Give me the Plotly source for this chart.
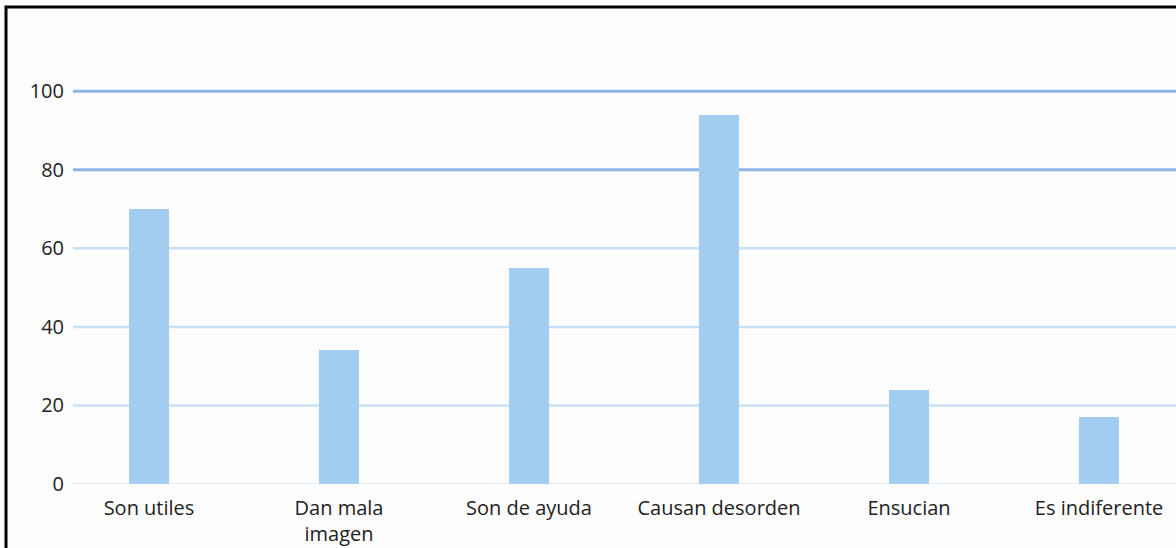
import plotly.graph_objects as go

# Survey responses (percent)
categories = ["Son utiles", "Dan mala<br>imagen", "Son de ayuda",
              "Causan desorden", "Ensucian", "Es indiferente"]
values = [70, 34, 55, 94, 24, 17]

y_ticks = [0, 20, 40, 60, 80, 100]

BAR_COLOR = "#a3cdf0"
TEXT_COLOR = "#222222"
FONT = "Open Sans"

W, H = 1176, 548
ML, MR, MT, MB = 73, 0, 52, 64
plot_w = W - ML - MR
plot_h = H - MT - MB

fig = go.Figure()
fig.add_trace(go.Bar(
    x=categories,
    y=values,
    width=0.21,
    marker=dict(color=BAR_COLOR, line=dict(width=0)),
    hoverinfo="x+y",
))

# Horizontal reference lines, one per tick; the upper two are stronger
shapes = []
for t in y_ticks:
    if t >= 80:
        color, width = "#8fb3e6", 3
    elif t == 0:
        color, width = "#dcedf9", 2
    else:
        color, width = "#c7e0f4", 2.5
    shapes.append(dict(
        type="line", xref="paper", yref="y",
        x0=0, x1=1, y0=t, y1=t,
        line=dict(color=color, width=width),
        layer="below",
    ))

# Outer frame (left and top edges visible)
shapes.append(dict(
    type="rect", xref="paper", yref="paper",
    x0=(6 - ML) / plot_w, x1=1.02,
    y0=-0.3, y1=1 + (MT - 7) / plot_h,
    line=dict(color="#000000", width=3),
    fillcolor="rgba(0,0,0,0)",
))

fig.update_layout(
    width=W, height=H,
    margin=dict(l=ML, r=MR, t=MT, b=MB),
    paper_bgcolor="#fdfdfe",
    plot_bgcolor="#fdfdfe",
    showlegend=False,
    bargap=0,
    shapes=shapes,
    font=dict(family=FONT, size=20, color=TEXT_COLOR),
    xaxis=dict(
        type="category",
        range=[-0.4, 5.405],
        showgrid=False, zeroline=False, showline=False,
        ticks="", ticklabelstandoff=10,
        tickfont=dict(family=FONT, size=20, color=TEXT_COLOR),
    ),
    yaxis=dict(
        range=[0, 110],
        tickvals=y_ticks,
        showgrid=False, zeroline=False, showline=False,
        ticks="", ticklabelstandoff=8,
        tickfont=dict(family=FONT, size=20, color=TEXT_COLOR),
    ),
)

fig.write_html("out.html")
